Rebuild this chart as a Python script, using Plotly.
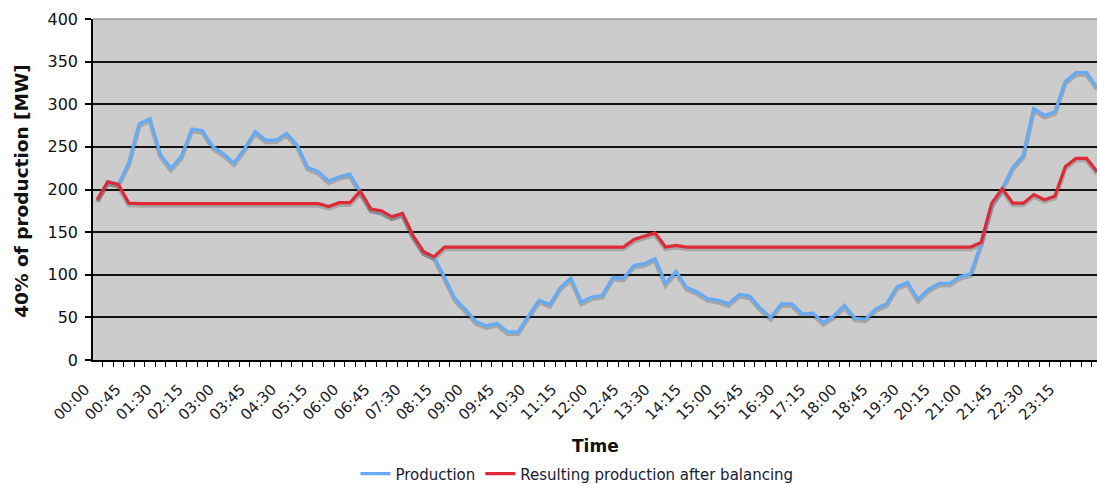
import plotly.graph_objects as go

# Quarter-hour time stamps over one day
times = [f"{h:02d}:{m:02d}" for h in range(24) for m in (0, 15, 30, 45)]

# 40% of wind production [MW]
production = [
    188, 209, 206, 231, 277, 283, 241, 225, 239, 271, 269, 250,
    242, 231, 248, 268, 258, 258, 266, 252, 226, 221, 210, 215,
    218, 198, 177, 174, 168, 172, 146, 127, 121, 97, 72, 59,
    45, 40, 43, 33, 33, 52, 70, 65, 85, 96, 68, 74,
    76, 97, 96, 111, 113, 119, 90, 104, 85, 80, 72, 70,
    66, 77, 75, 61, 50, 66, 66, 54, 55, 44, 52, 64,
    49, 48, 60, 66, 86, 91, 71, 83, 90, 90, 98, 101,
    137, 182, 201, 226, 240, 295, 287, 291, 327, 337, 337, 320,
]

# Resulting production after balancing [MW]
balanced = [
    188, 209, 206, 184, 183.5, 183.5, 183.5, 183.5, 183.5, 183.5, 183.5, 183.5,
    183.5, 183.5, 183.5, 183.5, 183.5, 183.5, 183.5, 183.5, 183.5, 183.5, 180, 184.5,
    184.5, 198, 177, 175, 168, 172, 146, 127, 121, 132.5, 132.5, 132.5,
    132.5, 132.5, 132.5, 132.5, 132.5, 132.5, 132.5, 132.5, 132.5, 132.5, 132.5, 132.5,
    132.5, 132.5, 132.5, 141.5, 145.5, 149, 132.5, 134.5, 132.5, 132.5, 132.5, 132.5,
    132.5, 132.5, 132.5, 132.5, 132.5, 132.5, 132.5, 132.5, 132.5, 132.5, 132.5, 132.5,
    132.5, 132.5, 132.5, 132.5, 132.5, 132.5, 132.5, 132.5, 132.5, 132.5, 132.5, 132.5,
    138, 184, 201, 184, 184, 194, 188, 192, 227, 236.5, 236.5, 221,
]

series_names = ["Production", "Resulting production after balancing"]
series_colors = ["#64AAF5", "#DE2A34"]

y_ticks = [0, 50, 100, 150, 200, 250, 300, 350, 400]
label_step = 3      # one label every 45 minutes
label_pitch = 0.986  # time labels sit on a slightly tighter pitch than the slots

idx = list(range(len(times)))
font_family = "DejaVu Sans, Verdana, sans-serif"

fig = go.Figure()

# soft drop shadow under each line, on a hidden base axis shifted by ~2 px
for vals in (production, balanced):
    fig.add_trace(go.Scatter(
        x=idx, y=vals, mode="lines", yaxis="y2", showlegend=False,
        hoverinfo="skip",
        line=dict(color="rgba(70,70,70,0.28)", width=4.5),
    ))

for name, vals, color in zip(series_names, (production, balanced), series_colors):
    fig.add_trace(go.Scatter(
        x=idx, y=vals, mode="lines", name=name, yaxis="y",
        customdata=times, hovertemplate="%{customdata}: %{y} MW<extra>" + name + "</extra>",
        line=dict(color=color, width=3.2),
    ))

y_lo, y_hi = y_ticks[0], y_ticks[-1]
shadow_shift = 2.3

fig.update_layout(
    width=1097, height=484,
    margin=dict(l=93, r=0, t=19, b=124, autoexpand=False),
    paper_bgcolor="white",
    plot_bgcolor="#CCCCCC",
    font=dict(family=font_family, color="#111111"),
    showlegend=True,
    legend=dict(
        orientation="h", xanchor="center", yanchor="middle",
        x=0.482, y=-0.334,
        font=dict(size=15, color="#1a1a33", family=font_family),
        bgcolor="rgba(0,0,0,0)", itemwidth=30, tracegroupgap=0,
    ),
    xaxis=dict(
        automargin=False,
        range=[-0.4, len(times) - 1],
        tickmode="array",
        tickvals=[i * label_pitch for i in idx[::label_step]],
        ticktext=times[::label_step],
        tickangle=-45,
        ticks="",
        tickfont=dict(size=15, color="#1a1a2a"),
        ticklabelstandoff=13,
        ticklabelshift=-12,
        showgrid=False, zeroline=False,
        showline=True, linecolor="black", linewidth=1.5,
        minor=dict(
            tickmode="array",
            tickvals=[i - 0.5 for i in idx] + [len(times) - 0.5],
            ticks="outside", ticklen=5, tickcolor="black", tickwidth=1,
            showgrid=False,
        ),
    ),
    yaxis2=dict(
        automargin=False,
        range=[y_lo + shadow_shift, y_hi + shadow_shift],
        showgrid=False, showticklabels=False, ticks="", zeroline=False,
        showline=False,
    ),
    yaxis=dict(
        automargin=False,
        overlaying="y2",
        range=[y_lo, y_hi],
        tickmode="array", tickvals=y_ticks,
        ticks="outside", ticklen=6, tickcolor="black", tickwidth=1.5,
        tickfont=dict(size=16, color="#111111"),
        showgrid=True, gridcolor="#111111", gridwidth=1.5,
        zeroline=False,
        showline=True, linecolor="black", linewidth=1.5,
        ticklabelstandoff=4,
    ),
    annotations=[
        dict(
            text="<b>40% of production [MW]</b>", textangle=-90,
            xref="paper", yref="paper", x=-0.0708, y=0.496,
            xanchor="center", yanchor="middle", showarrow=False,
            font=dict(size=18.5, color="#111111"),
        ),
        dict(
            text="<b>Time</b>",
            xref="paper", yref="paper", x=0.5, y=-0.252,
            xanchor="center", yanchor="middle", showarrow=False,
            font=dict(size=17, color="#111111"),
        ),
    ],
    shapes=[
        dict(type="line", xref="paper", yref="paper", x0=0, x1=1, y0=1, y1=1,
             line=dict(color="#9a9a9a", width=1.5)),
    ],
)

fig.write_html("out.html")
